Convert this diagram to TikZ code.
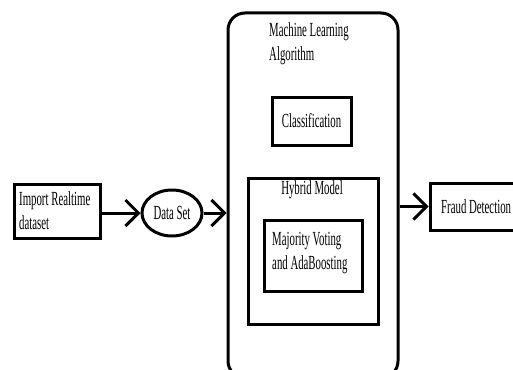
\documentclass[tikz,border=0pt]{standalone}
\usepackage{fontspec}
\setmainfont{Liberation Serif}[FakeStretch=0.54]
\usetikzlibrary{shapes.geometric,arrows.meta}
\begin{document}
\begin{tikzpicture}[x=1pt,y=-1pt,
  every node/.style={font=\fontsize{20}{24}\selectfont},
  box/.style={draw,line width=3pt,rectangle,inner sep=0pt},
  txt/.style={inner sep=0pt,align=left},
  conn/.style={line width=3pt,-{Straight Barb[length=13pt,width=26pt,line width=3pt]}}]
\useasboundingbox (0,0) rectangle (513,369);
\fill[white] (0,0) rectangle (513,369);
% big rounded container
\node[draw,line width=3pt,rounded corners=17pt,minimum width=170pt,minimum height=365pt,inner sep=0pt] (ml) at (313,195.5) {};
\node[txt,anchor=north west] (mltxt) at (269,22) {Machine Learning\\Algorithm};
\node[box,minimum width=79pt,minimum height=48pt] (cls) at (311.5,121) {Classification};
\node[box,minimum width=130pt,minimum height=146pt] (hyb) at (313,251) {};
\node[txt,anchor=north] (hybtxt) at (312,180) {Hybrid Model};
\node[box,minimum width=98pt,minimum height=71pt] (mv) at (313,255.5) {};
\node[txt,anchor=west] (mvtxt) at (272,253) {Majority Voting\\and AdaBoosting};
% left part
\node[box,minimum width=86pt,minimum height=54pt] (imp) at (57,211) {};
\node[txt,anchor=west] (imptxt) at (19,211) {Import Realtime\\dataset};
\node[draw,line width=3pt,ellipse,minimum width=60pt,minimum height=46pt,inner sep=0pt] (ds) at (172,213) {Data Set};
% right part
\node[box,minimum width=90pt,minimum height=47pt] (fr) at (475,206.5) {};
\node[txt,anchor=west] (frtxt) at (441,206.5) {Fraud Detection};
% connectors
\draw[conn] (imp.east |- ds.west) -- (ds.west);
\draw[conn] (ds.east) -- (ds.east -| ml.west);
\draw[conn] (ml.east |- fr.west) -- (fr.west);
\end{tikzpicture}
\end{document}
